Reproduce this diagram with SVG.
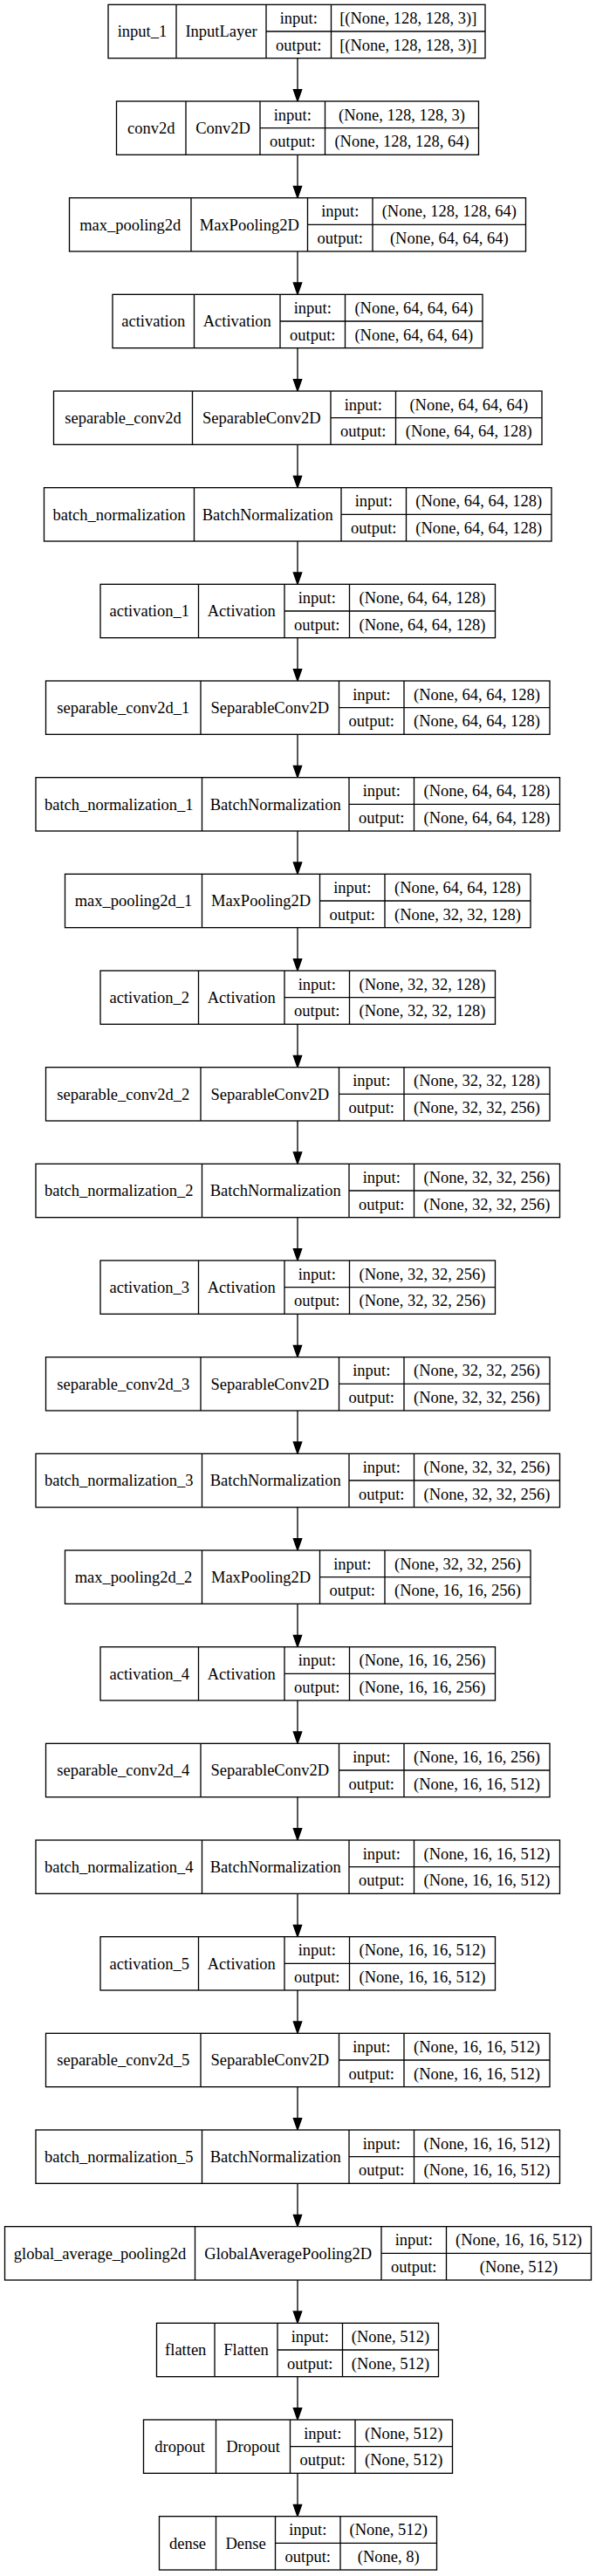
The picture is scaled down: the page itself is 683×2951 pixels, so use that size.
<svg xmlns="http://www.w3.org/2000/svg" width="683" height="2951" viewBox="0 0 683 2951">
<style>
.b{fill:#fff;stroke:#000;stroke-width:1.33}
.l{fill:none;stroke:#000;stroke-width:1.33}
.t{font-family:"Liberation Serif","Times New Roman",serif;font-size:18.5px;text-anchor:middle;fill:#000}
.e{stroke:#000;stroke-width:1.33;fill:none}
</style>
<defs>
<marker id="ah" markerUnits="userSpaceOnUse" markerWidth="16" markerHeight="12" refX="7.33" refY="4.67" orient="auto" overflow="visible">
<path d="M0,0L13.33,4.67L0,9.33Z" fill="#000" stroke="#000" stroke-width="1.33"/>
</marker>
</defs>
<rect x="0" y="0" width="683" height="2951" fill="#fff"/>
<g id="connectors">
<line class="e" x1="341" y1="66.67" x2="341" y2="110" marker-end="url(#ah)"/>
<line class="e" x1="341" y1="177.33" x2="341" y2="220.67" marker-end="url(#ah)"/>
<line class="e" x1="341" y1="288" x2="341" y2="331.33" marker-end="url(#ah)"/>
<line class="e" x1="341" y1="398.67" x2="341" y2="442" marker-end="url(#ah)"/>
<line class="e" x1="341" y1="509.33" x2="341" y2="552.67" marker-end="url(#ah)"/>
<line class="e" x1="341" y1="620" x2="341" y2="663.33" marker-end="url(#ah)"/>
<line class="e" x1="341" y1="730.67" x2="341" y2="774" marker-end="url(#ah)"/>
<line class="e" x1="341" y1="841.33" x2="341" y2="884.67" marker-end="url(#ah)"/>
<line class="e" x1="341" y1="952" x2="341" y2="995.33" marker-end="url(#ah)"/>
<line class="e" x1="341" y1="1062.67" x2="341" y2="1106" marker-end="url(#ah)"/>
<line class="e" x1="341" y1="1173.33" x2="341" y2="1216.67" marker-end="url(#ah)"/>
<line class="e" x1="341" y1="1284" x2="341" y2="1327.33" marker-end="url(#ah)"/>
<line class="e" x1="341" y1="1394.67" x2="341" y2="1438" marker-end="url(#ah)"/>
<line class="e" x1="341" y1="1505.33" x2="341" y2="1548.67" marker-end="url(#ah)"/>
<line class="e" x1="341" y1="1616" x2="341" y2="1659.33" marker-end="url(#ah)"/>
<line class="e" x1="341" y1="1726.67" x2="341" y2="1770" marker-end="url(#ah)"/>
<line class="e" x1="341" y1="1837.33" x2="341" y2="1880.67" marker-end="url(#ah)"/>
<line class="e" x1="341" y1="1948" x2="341" y2="1991.33" marker-end="url(#ah)"/>
<line class="e" x1="341" y1="2058.67" x2="341" y2="2102" marker-end="url(#ah)"/>
<line class="e" x1="341" y1="2169.33" x2="341" y2="2212.67" marker-end="url(#ah)"/>
<line class="e" x1="341" y1="2280" x2="341" y2="2323.33" marker-end="url(#ah)"/>
<line class="e" x1="341" y1="2390.67" x2="341" y2="2434" marker-end="url(#ah)"/>
<line class="e" x1="341" y1="2501.33" x2="341" y2="2544.67" marker-end="url(#ah)"/>
<line class="e" x1="341" y1="2612" x2="341" y2="2655.33" marker-end="url(#ah)"/>
<line class="e" x1="341" y1="2722.67" x2="341" y2="2766" marker-end="url(#ah)"/>
<line class="e" x1="341" y1="2833.33" x2="341" y2="2876.67" marker-end="url(#ah)"/>
</g>

<g id="input_1" transform="translate(0,5.33)">
<rect class="b" x="124" y="0" width="432" height="61.33"/>
<path class="l" d="M202,0V61.33M305,0V61.33M379.5,0V61.33M305,30.67H556"/>
<text class="t" x="163" y="37">input_1</text>
<text class="t" x="253.5" y="37">InputLayer</text>
<text class="t" x="342.25" y="21.6">input:</text>
<text class="t" x="342.25" y="52.3">output:</text>
<text class="t" x="467.75" y="21.6">[(None, 128, 128, 3)]</text>
<text class="t" x="467.75" y="52.3">[(None, 128, 128, 3)]</text>
</g>

<g id="conv2d" transform="translate(0,116)">
<rect class="b" x="133.5" y="0" width="415" height="61.33"/>
<path class="l" d="M213,0V61.33M298,0V61.33M372.5,0V61.33M298,30.67H548.5"/>
<text class="t" x="173.25" y="37">conv2d</text>
<text class="t" x="255.5" y="37">Conv2D</text>
<text class="t" x="335.25" y="21.6">input:</text>
<text class="t" x="335.25" y="52.3">output:</text>
<text class="t" x="460.5" y="21.6">(None, 128, 128, 3)</text>
<text class="t" x="460.5" y="52.3">(None, 128, 128, 64)</text>
</g>

<g id="max_pooling2d" transform="translate(0,226.67)">
<rect class="b" x="79.5" y="0" width="523" height="61.33"/>
<path class="l" d="M219,0V61.33M352.5,0V61.33M427,0V61.33M352.5,30.67H602.5"/>
<text class="t" x="149.25" y="37">max_pooling2d</text>
<text class="t" x="285.75" y="37">MaxPooling2D</text>
<text class="t" x="389.75" y="21.6">input:</text>
<text class="t" x="389.75" y="52.3">output:</text>
<text class="t" x="514.75" y="21.6">(None, 128, 128, 64)</text>
<text class="t" x="514.75" y="52.3">(None, 64, 64, 64)</text>
</g>

<g id="activation" transform="translate(0,337.33)">
<rect class="b" x="129" y="0" width="424" height="61.33"/>
<path class="l" d="M222.5,0V61.33M321,0V61.33M395.5,0V61.33M321,30.67H553"/>
<text class="t" x="175.75" y="37">activation</text>
<text class="t" x="271.75" y="37">Activation</text>
<text class="t" x="358.25" y="21.6">input:</text>
<text class="t" x="358.25" y="52.3">output:</text>
<text class="t" x="474.25" y="21.6">(None, 64, 64, 64)</text>
<text class="t" x="474.25" y="52.3">(None, 64, 64, 64)</text>
</g>

<g id="separable_conv2d" transform="translate(0,448)">
<rect class="b" x="61.5" y="0" width="559.5" height="61.33"/>
<path class="l" d="M220.5,0V61.33M379,0V61.33M453.5,0V61.33M379,30.67H621"/>
<text class="t" x="141" y="37">separable_conv2d</text>
<text class="t" x="299.75" y="37">SeparableConv2D</text>
<text class="t" x="416.25" y="21.6">input:</text>
<text class="t" x="416.25" y="52.3">output:</text>
<text class="t" x="537.25" y="21.6">(None, 64, 64, 64)</text>
<text class="t" x="537.25" y="52.3">(None, 64, 64, 128)</text>
</g>

<g id="batch_normalization" transform="translate(0,558.67)">
<rect class="b" x="50.5" y="0" width="581.5" height="61.33"/>
<path class="l" d="M222.5,0V61.33M391,0V61.33M465.5,0V61.33M391,30.67H632"/>
<text class="t" x="136.5" y="37">batch_normalization</text>
<text class="t" x="306.75" y="37">BatchNormalization</text>
<text class="t" x="428.25" y="21.6">input:</text>
<text class="t" x="428.25" y="52.3">output:</text>
<text class="t" x="548.75" y="21.6">(None, 64, 64, 128)</text>
<text class="t" x="548.75" y="52.3">(None, 64, 64, 128)</text>
</g>

<g id="activation_1" transform="translate(0,669.33)">
<rect class="b" x="115" y="0" width="452.5" height="61.33"/>
<path class="l" d="M227.5,0V61.33M326,0V61.33M400.5,0V61.33M326,30.67H567.5"/>
<text class="t" x="171.25" y="37">activation_1</text>
<text class="t" x="276.75" y="37">Activation</text>
<text class="t" x="363.25" y="21.6">input:</text>
<text class="t" x="363.25" y="52.3">output:</text>
<text class="t" x="484" y="21.6">(None, 64, 64, 128)</text>
<text class="t" x="484" y="52.3">(None, 64, 64, 128)</text>
</g>

<g id="separable_conv2d_1" transform="translate(0,780)">
<rect class="b" x="52.5" y="0" width="577.5" height="61.33"/>
<path class="l" d="M230,0V61.33M388.5,0V61.33M463,0V61.33M388.5,30.67H630"/>
<text class="t" x="141.25" y="37">separable_conv2d_1</text>
<text class="t" x="309.25" y="37">SeparableConv2D</text>
<text class="t" x="425.75" y="21.6">input:</text>
<text class="t" x="425.75" y="52.3">output:</text>
<text class="t" x="546.5" y="21.6">(None, 64, 64, 128)</text>
<text class="t" x="546.5" y="52.3">(None, 64, 64, 128)</text>
</g>

<g id="batch_normalization_1" transform="translate(0,890.67)">
<rect class="b" x="41" y="0" width="600.5" height="61.33"/>
<path class="l" d="M231.5,0V61.33M400,0V61.33M474.5,0V61.33M400,30.67H641.5"/>
<text class="t" x="136.25" y="37">batch_normalization_1</text>
<text class="t" x="315.75" y="37">BatchNormalization</text>
<text class="t" x="437.25" y="21.6">input:</text>
<text class="t" x="437.25" y="52.3">output:</text>
<text class="t" x="558" y="21.6">(None, 64, 64, 128)</text>
<text class="t" x="558" y="52.3">(None, 64, 64, 128)</text>
</g>

<g id="max_pooling2d_1" transform="translate(0,1001.33)">
<rect class="b" x="74.5" y="0" width="533.5" height="61.33"/>
<path class="l" d="M231.5,0V61.33M366.5,0V61.33M441,0V61.33M366.5,30.67H608"/>
<text class="t" x="153" y="37">max_pooling2d_1</text>
<text class="t" x="299" y="37">MaxPooling2D</text>
<text class="t" x="403.75" y="21.6">input:</text>
<text class="t" x="403.75" y="52.3">output:</text>
<text class="t" x="524.5" y="21.6">(None, 64, 64, 128)</text>
<text class="t" x="524.5" y="52.3">(None, 32, 32, 128)</text>
</g>

<g id="activation_2" transform="translate(0,1112)">
<rect class="b" x="115" y="0" width="452.5" height="61.33"/>
<path class="l" d="M227.5,0V61.33M326,0V61.33M400.5,0V61.33M326,30.67H567.5"/>
<text class="t" x="171.25" y="37">activation_2</text>
<text class="t" x="276.75" y="37">Activation</text>
<text class="t" x="363.25" y="21.6">input:</text>
<text class="t" x="363.25" y="52.3">output:</text>
<text class="t" x="484" y="21.6">(None, 32, 32, 128)</text>
<text class="t" x="484" y="52.3">(None, 32, 32, 128)</text>
</g>

<g id="separable_conv2d_2" transform="translate(0,1222.67)">
<rect class="b" x="52.5" y="0" width="577.5" height="61.33"/>
<path class="l" d="M230,0V61.33M388.5,0V61.33M463,0V61.33M388.5,30.67H630"/>
<text class="t" x="141.25" y="37">separable_conv2d_2</text>
<text class="t" x="309.25" y="37">SeparableConv2D</text>
<text class="t" x="425.75" y="21.6">input:</text>
<text class="t" x="425.75" y="52.3">output:</text>
<text class="t" x="546.5" y="21.6">(None, 32, 32, 128)</text>
<text class="t" x="546.5" y="52.3">(None, 32, 32, 256)</text>
</g>

<g id="batch_normalization_2" transform="translate(0,1333.33)">
<rect class="b" x="41" y="0" width="600.5" height="61.33"/>
<path class="l" d="M231.5,0V61.33M400,0V61.33M474.5,0V61.33M400,30.67H641.5"/>
<text class="t" x="136.25" y="37">batch_normalization_2</text>
<text class="t" x="315.75" y="37">BatchNormalization</text>
<text class="t" x="437.25" y="21.6">input:</text>
<text class="t" x="437.25" y="52.3">output:</text>
<text class="t" x="558" y="21.6">(None, 32, 32, 256)</text>
<text class="t" x="558" y="52.3">(None, 32, 32, 256)</text>
</g>

<g id="activation_3" transform="translate(0,1444)">
<rect class="b" x="115" y="0" width="452.5" height="61.33"/>
<path class="l" d="M227.5,0V61.33M326,0V61.33M400.5,0V61.33M326,30.67H567.5"/>
<text class="t" x="171.25" y="37">activation_3</text>
<text class="t" x="276.75" y="37">Activation</text>
<text class="t" x="363.25" y="21.6">input:</text>
<text class="t" x="363.25" y="52.3">output:</text>
<text class="t" x="484" y="21.6">(None, 32, 32, 256)</text>
<text class="t" x="484" y="52.3">(None, 32, 32, 256)</text>
</g>

<g id="separable_conv2d_3" transform="translate(0,1554.67)">
<rect class="b" x="52.5" y="0" width="577.5" height="61.33"/>
<path class="l" d="M230,0V61.33M388.5,0V61.33M463,0V61.33M388.5,30.67H630"/>
<text class="t" x="141.25" y="37">separable_conv2d_3</text>
<text class="t" x="309.25" y="37">SeparableConv2D</text>
<text class="t" x="425.75" y="21.6">input:</text>
<text class="t" x="425.75" y="52.3">output:</text>
<text class="t" x="546.5" y="21.6">(None, 32, 32, 256)</text>
<text class="t" x="546.5" y="52.3">(None, 32, 32, 256)</text>
</g>

<g id="batch_normalization_3" transform="translate(0,1665.33)">
<rect class="b" x="41" y="0" width="600.5" height="61.33"/>
<path class="l" d="M231.5,0V61.33M400,0V61.33M474.5,0V61.33M400,30.67H641.5"/>
<text class="t" x="136.25" y="37">batch_normalization_3</text>
<text class="t" x="315.75" y="37">BatchNormalization</text>
<text class="t" x="437.25" y="21.6">input:</text>
<text class="t" x="437.25" y="52.3">output:</text>
<text class="t" x="558" y="21.6">(None, 32, 32, 256)</text>
<text class="t" x="558" y="52.3">(None, 32, 32, 256)</text>
</g>

<g id="max_pooling2d_2" transform="translate(0,1776)">
<rect class="b" x="74.5" y="0" width="533.5" height="61.33"/>
<path class="l" d="M231.5,0V61.33M366.5,0V61.33M441,0V61.33M366.5,30.67H608"/>
<text class="t" x="153" y="37">max_pooling2d_2</text>
<text class="t" x="299" y="37">MaxPooling2D</text>
<text class="t" x="403.75" y="21.6">input:</text>
<text class="t" x="403.75" y="52.3">output:</text>
<text class="t" x="524.5" y="21.6">(None, 32, 32, 256)</text>
<text class="t" x="524.5" y="52.3">(None, 16, 16, 256)</text>
</g>

<g id="activation_4" transform="translate(0,1886.67)">
<rect class="b" x="115" y="0" width="452.5" height="61.33"/>
<path class="l" d="M227.5,0V61.33M326,0V61.33M400.5,0V61.33M326,30.67H567.5"/>
<text class="t" x="171.25" y="37">activation_4</text>
<text class="t" x="276.75" y="37">Activation</text>
<text class="t" x="363.25" y="21.6">input:</text>
<text class="t" x="363.25" y="52.3">output:</text>
<text class="t" x="484" y="21.6">(None, 16, 16, 256)</text>
<text class="t" x="484" y="52.3">(None, 16, 16, 256)</text>
</g>

<g id="separable_conv2d_4" transform="translate(0,1997.33)">
<rect class="b" x="52.5" y="0" width="577.5" height="61.33"/>
<path class="l" d="M230,0V61.33M388.5,0V61.33M463,0V61.33M388.5,30.67H630"/>
<text class="t" x="141.25" y="37">separable_conv2d_4</text>
<text class="t" x="309.25" y="37">SeparableConv2D</text>
<text class="t" x="425.75" y="21.6">input:</text>
<text class="t" x="425.75" y="52.3">output:</text>
<text class="t" x="546.5" y="21.6">(None, 16, 16, 256)</text>
<text class="t" x="546.5" y="52.3">(None, 16, 16, 512)</text>
</g>

<g id="batch_normalization_4" transform="translate(0,2108)">
<rect class="b" x="41" y="0" width="600.5" height="61.33"/>
<path class="l" d="M231.5,0V61.33M400,0V61.33M474.5,0V61.33M400,30.67H641.5"/>
<text class="t" x="136.25" y="37">batch_normalization_4</text>
<text class="t" x="315.75" y="37">BatchNormalization</text>
<text class="t" x="437.25" y="21.6">input:</text>
<text class="t" x="437.25" y="52.3">output:</text>
<text class="t" x="558" y="21.6">(None, 16, 16, 512)</text>
<text class="t" x="558" y="52.3">(None, 16, 16, 512)</text>
</g>

<g id="activation_5" transform="translate(0,2218.67)">
<rect class="b" x="115" y="0" width="452.5" height="61.33"/>
<path class="l" d="M227.5,0V61.33M326,0V61.33M400.5,0V61.33M326,30.67H567.5"/>
<text class="t" x="171.25" y="37">activation_5</text>
<text class="t" x="276.75" y="37">Activation</text>
<text class="t" x="363.25" y="21.6">input:</text>
<text class="t" x="363.25" y="52.3">output:</text>
<text class="t" x="484" y="21.6">(None, 16, 16, 512)</text>
<text class="t" x="484" y="52.3">(None, 16, 16, 512)</text>
</g>

<g id="separable_conv2d_5" transform="translate(0,2329.33)">
<rect class="b" x="52.5" y="0" width="577.5" height="61.33"/>
<path class="l" d="M230,0V61.33M388.5,0V61.33M463,0V61.33M388.5,30.67H630"/>
<text class="t" x="141.25" y="37">separable_conv2d_5</text>
<text class="t" x="309.25" y="37">SeparableConv2D</text>
<text class="t" x="425.75" y="21.6">input:</text>
<text class="t" x="425.75" y="52.3">output:</text>
<text class="t" x="546.5" y="21.6">(None, 16, 16, 512)</text>
<text class="t" x="546.5" y="52.3">(None, 16, 16, 512)</text>
</g>

<g id="batch_normalization_5" transform="translate(0,2440)">
<rect class="b" x="41" y="0" width="600.5" height="61.33"/>
<path class="l" d="M231.5,0V61.33M400,0V61.33M474.5,0V61.33M400,30.67H641.5"/>
<text class="t" x="136.25" y="37">batch_normalization_5</text>
<text class="t" x="315.75" y="37">BatchNormalization</text>
<text class="t" x="437.25" y="21.6">input:</text>
<text class="t" x="437.25" y="52.3">output:</text>
<text class="t" x="558" y="21.6">(None, 16, 16, 512)</text>
<text class="t" x="558" y="52.3">(None, 16, 16, 512)</text>
</g>

<g id="global_average_pooling2d" transform="translate(0,2550.67)">
<rect class="b" x="5.5" y="0" width="672" height="61.33"/>
<path class="l" d="M223.5,0V61.33M437,0V61.33M511.5,0V61.33M437,30.67H677.5"/>
<text class="t" x="114.5" y="37">global_average_pooling2d</text>
<text class="t" x="330.25" y="37">GlobalAveragePooling2D</text>
<text class="t" x="474.25" y="21.6">input:</text>
<text class="t" x="474.25" y="52.3">output:</text>
<text class="t" x="594.5" y="21.6">(None, 16, 16, 512)</text>
<text class="t" x="594.5" y="52.3">(None, 512)</text>
</g>

<g id="flatten" transform="translate(0,2661.33)">
<rect class="b" x="179.5" y="0" width="323" height="61.33"/>
<path class="l" d="M246,0V61.33M318,0V61.33M392.5,0V61.33M318,30.67H502.5"/>
<text class="t" x="212.75" y="37">flatten</text>
<text class="t" x="282" y="37">Flatten</text>
<text class="t" x="355.25" y="21.6">input:</text>
<text class="t" x="355.25" y="52.3">output:</text>
<text class="t" x="447.5" y="21.6">(None, 512)</text>
<text class="t" x="447.5" y="52.3">(None, 512)</text>
</g>

<g id="dropout" transform="translate(0,2772)">
<rect class="b" x="164.5" y="0" width="354" height="61.33"/>
<path class="l" d="M247.5,0V61.33M332.5,0V61.33M407,0V61.33M332.5,30.67H518.5"/>
<text class="t" x="206" y="37">dropout</text>
<text class="t" x="290" y="37">Dropout</text>
<text class="t" x="369.75" y="21.6">input:</text>
<text class="t" x="369.75" y="52.3">output:</text>
<text class="t" x="462.75" y="21.6">(None, 512)</text>
<text class="t" x="462.75" y="52.3">(None, 512)</text>
</g>

<g id="dense" transform="translate(0,2882.67)">
<rect class="b" x="182.5" y="0" width="318" height="61.33"/>
<path class="l" d="M247.5,0V61.33M315.5,0V61.33M390,0V61.33M315.5,30.67H500.5"/>
<text class="t" x="215" y="37">dense</text>
<text class="t" x="281.5" y="37">Dense</text>
<text class="t" x="352.75" y="21.6">input:</text>
<text class="t" x="352.75" y="52.3">output:</text>
<text class="t" x="445.25" y="21.6">(None, 512)</text>
<text class="t" x="445.25" y="52.3">(None, 8)</text>
</g>
</svg>
